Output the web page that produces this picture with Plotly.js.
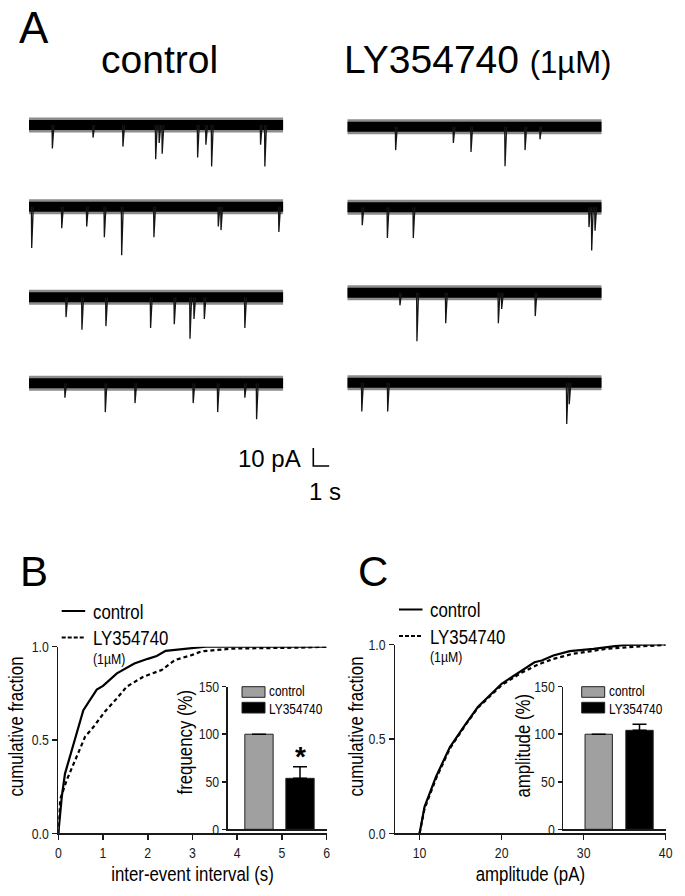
<!DOCTYPE html>
<html><head><meta charset="utf-8">
<script src="https://cdn.plot.ly/plotly-3.0.1.min.js"></script>
<style>html,body{margin:0;padding:0;background:#fff}#chart{width:685px;height:896px}</style>
</head><body><div id="chart"></div>
<script>
// ---------- DATA ----------
const traceDuration = 16; // seconds shown per sweep
// control sweeps: event times (s) and amplitudes (pA, downward)
const ctrlEventTimes = [
  [1.47, 4.03, 5.91, 7.97, 8.19, 8.38, 10.61, 11.13, 11.49, 14.57, 14.84],
  [0.17, 2.06, 3.63, 4.74, 5.83, 7.86, 11.91, 12.08, 15.72],
  [2.33, 3.33, 4.84, 7.65, 9.14, 10.13, 10.38, 11.03, 13.58],
  [2.26, 4.80, 6.67, 10.33, 11.87, 13.58, 14.32]
];
const ctrlEventAmps = [
  [13, 7, 12, 19, 10, 16, 18, 11, 23, 11, 23],
  [23, 12, 11, 17, 27, 17, 11, 13, 14],
  [11, 18, 16, 17, 15, 23, 12, 12, 17],
  [8, 16, 11, 11, 16, 8, 20]
];
// LY354740 sweeps
const lyEventTimes = [
  [3.04, 6.67, 7.78, 9.92, 11.18, 12.12],
  [0.94, 2.52, 4.15, 15.20, 15.37, 15.58],
  [3.31, 4.38, 6.19, 9.50, 9.71, 11.82],
  [0.91, 2.54, 13.80, 13.96]
];
const lyEventAmps = [
  [13, 9, 14, 22, 13, 7],
  [10, 17, 17, 11, 24, 13],
  [7, 27, 17, 17, 9, 13],
  [16, 16, 23, 12]
];
const scaleBarCurrent = 10; // pA
const scaleBarTime = 1;     // s

// B: cumulative inter-event interval
const ieiCtrlX = [0, 0.08, 0.15, 0.37, 0.56, 0.86, 1.0, 1.31, 1.5, 1.7, 2.0, 2.2, 2.4, 2.9, 3.3, 4, 5, 6];
const ieiCtrlY = [0, 0.20, 0.32, 0.50, 0.66, 0.77, 0.79, 0.857, 0.885, 0.91, 0.935, 0.95, 0.978, 0.99, 1.0, 1.0, 1.0, 1.0];
const ieiLyX = [0, 0.04, 0.19, 0.37, 0.6, 0.78, 1.04, 1.31, 1.53, 1.9, 2.31, 2.61, 2.98, 3.2, 3.9, 5.4, 6];
const ieiLyY = [0, 0.18, 0.286, 0.39, 0.518, 0.568, 0.652, 0.723, 0.786, 0.839, 0.875, 0.929, 0.955, 0.975, 0.99, 0.995, 1.0];
// C: cumulative amplitude
const ampCtrlX = [10, 10.6, 12.0, 13.7, 15.5, 17.1, 20.0, 22.4, 24.0, 24.9, 26.3, 28.3, 31.2, 35, 40];
const ampCtrlY = [0, 0.14, 0.30, 0.457, 0.572, 0.669, 0.792, 0.863, 0.906, 0.915, 0.942, 0.965, 0.977, 0.998, 1.0];
const ampLyX = [10, 10.6, 12.0, 13.7, 15.5, 17.1, 20.0, 22.4, 24.5, 26.3, 28.7, 32.8, 36.9, 40];
const ampLyY = [0, 0.13, 0.29, 0.45, 0.568, 0.665, 0.785, 0.85, 0.895, 0.924, 0.951, 0.977, 0.99, 0.998];

// insets (% of control)
const groups = ['control', 'LY354740'];
const freqMean = [100, 53.6];
const freqErr = [0, 12.2];
const ampMean = [100, 104.1];
const ampErr = [0, 6.3];
const barColors = ['#a0a0a0', '#000000'];

const ieiTicks = [0, 1, 2, 3, 4, 5, 6];
const ampTicks = [10, 20, 30, 40];
const cdfTicks = [0, 0.5, 1.0];
const insetTicks = [0, 50, 100, 150];

// ---------- LAYOUT HELPERS ----------
const W = 685, H = 896;
const FONT = 'Liberation Sans, Arial, Helvetica, sans-serif';
const FONTN = 'Liberation Sans Narrow, Liberation Sans, Arial, sans-serif';
const AX = '#1a1a1a';
const X = px => px / W;
const Y = py => 1 - py / H;

// is a real narrow face installed? (else narrow texts are condensed after drawing)
function hasNarrow() {
  const c = document.createElement('canvas').getContext('2d');
  c.font = '40px monospace'; const a = c.measureText('control LY354740').width;
  c.font = '40px "Liberation Sans Narrow", monospace'; const b = c.measureText('control LY354740').width;
  return Math.abs(a - b) > 1;
}
const NARROW_OK = hasNarrow();
const SQUEEZE = 0.82;

const traces = [];
const layout = {
  width: W, height: H, margin: {l: 0, r: 0, t: 0, b: 0},
  paper_bgcolor: '#fff', plot_bgcolor: 'rgba(0,0,0,0)',
  showlegend: false, font: {family: FONTN, color: AX},
  shapes: [], annotations: []
};

// ---------- PANEL A: sweeps ----------
const PX_PER_PA = 1.8;
const colX = [[29, 283.3], [347.3, 601.7]];
const rowBase = [[125, 206.7, 297.3, 383.3], [126.7, 207.3, 292.7, 382.7]];
const yTop = 8, yBot = -32;
let axN = 5;
function addSweep(col, row, times, amps) {
  const n = axN++;
  const base = rowBase[col][row];
  const topPx = base - yTop * PX_PER_PA, botPx = base - yBot * PX_PER_PA;
  layout['xaxis' + n] = {domain: [X(colX[col][0]), X(colX[col][1])], range: [0, traceDuration], visible: false, anchor: 'y' + n, fixedrange: true};
  layout['yaxis' + n] = {domain: [Y(botPx), Y(topPx)], range: [yBot, yTop], visible: false, anchor: 'x' + n, fixedrange: true};
  // noise band (baseline)
  traces.push({x: [0, traceDuration], y: [0, 0], xaxis: 'x' + n, yaxis: 'y' + n, mode: 'lines', line: {color: 'rgba(0,0,0,0.45)', width: 15}, hoverinfo: 'skip'});
  traces.push({x: [0, traceDuration], y: [0, 0], xaxis: 'x' + n, yaxis: 'y' + n, mode: 'lines', line: {color: '#000', width: 10}, hoverinfo: 'skip'});
  const ex = [], ey = [];
  times.forEach((t, i) => {
    ex.push(t - 0.02, t, t + 0.1, null);
    ey.push(0, -amps[i], 0, null);
  });
  traces.push({x: ex, y: ey, xaxis: 'x' + n, yaxis: 'y' + n, mode: 'lines', line: {color: '#151515', width: 1.3}, hoverinfo: 'skip'});
}
for (let r = 0; r < 4; r++) addSweep(0, r, ctrlEventTimes[r], ctrlEventAmps[r]);
for (let r = 0; r < 4; r++) addSweep(1, r, lyEventTimes[r], lyEventAmps[r]);

// scale bar axis (same scale as sweeps)
{
  const n = axN++;
  const pxPerS = (colX[0][1] - colX[0][0]) / traceDuration;
  const x0 = 313.3, y0 = 466;
  layout['xaxis' + n] = {domain: [X(x0 - 0.3 * pxPerS), X(x0 + 1.3 * pxPerS)], range: [-0.3, 1.3], visible: false, anchor: 'y' + n, fixedrange: true};
  layout['yaxis' + n] = {domain: [Y(y0 + 1.5 * PX_PER_PA), Y(y0 - 11.5 * PX_PER_PA)], range: [-1.5, 11.5], visible: false, anchor: 'x' + n, fixedrange: true};
  traces.push({x: [0, 0, scaleBarTime], y: [scaleBarCurrent, 0, 0], xaxis: 'x' + n, yaxis: 'y' + n, mode: 'lines', line: {color: '#000', width: 1.6}, hoverinfo: 'skip'});
}

// ---------- axis styles ----------
const baseAxis = {showline: true, linecolor: AX, linewidth: 1.5, ticks: 'outside', ticklen: 5, tickwidth: 1.5, tickcolor: AX,
  showgrid: false, zeroline: false, tickfont: {size: 15, family: FONTN, color: AX}, fixedrange: true};
const titleFont = {size: 20.5, family: FONTN, color: '#000'};

// Panel B main
layout.xaxis = Object.assign({}, baseAxis, {domain: [X(58.3), X(326.7)], range: [0, 6], tickvals: ieiTicks, anchor: 'y',
  title: {text: 'inter-event interval (s)', font: titleFont, standoff: 7}});
layout.yaxis = Object.assign({}, baseAxis, {domain: [Y(833.3), Y(646.7)], range: [0, 1], tickvals: cdfTicks, tickformat: '.1f', anchor: 'x'});
// Panel B inset
layout.xaxis2 = Object.assign({}, baseAxis, {domain: [X(227.7), X(326.7)], type: 'category', range: [-0.763, 1.651], ticks: '', showticklabels: false, anchor: 'y2'});
layout.yaxis2 = Object.assign({}, baseAxis, {domain: [Y(829.3), Y(686.7)], range: [0, 150], tickvals: insetTicks, ticklen: 4, anchor: 'x2'});
// Panel C main
layout.xaxis3 = Object.assign({}, baseAxis, {domain: [X(395), X(665.7)], range: [7, 40], tickvals: ampTicks, anchor: 'y3',
  title: {text: 'amplitude (pA)', font: titleFont, standoff: 7}});
layout.yaxis3 = Object.assign({}, baseAxis, {domain: [Y(833.3), Y(644.5)], range: [0, 1], tickvals: cdfTicks, tickformat: '.1f', anchor: 'x3'});
// Panel C inset
layout.xaxis4 = Object.assign({}, baseAxis, {domain: [X(563.3), X(665.7)], type: 'category', range: [-0.868, 1.642], ticks: '', showticklabels: false, anchor: 'y4'});
layout.yaxis4 = Object.assign({}, baseAxis, {domain: [Y(829.3), Y(686.7)], range: [0, 150], tickvals: insetTicks, ticklen: 4, anchor: 'x4'});

// CDF curves
traces.push({x: ieiCtrlX, y: ieiCtrlY, xaxis: 'x', yaxis: 'y', mode: 'lines', line: {color: '#000', width: 2.2}, cliponaxis: false});
traces.push({x: ieiLyX, y: ieiLyY, xaxis: 'x', yaxis: 'y', mode: 'lines', line: {color: '#000', width: 2.2, dash: '4px,3px'}, cliponaxis: false});
traces.push({x: ampCtrlX, y: ampCtrlY, xaxis: 'x3', yaxis: 'y3', mode: 'lines', line: {color: '#000', width: 2.2}, cliponaxis: false});
traces.push({x: ampLyX, y: ampLyY, xaxis: 'x3', yaxis: 'y3', mode: 'lines', line: {color: '#000', width: 2.2, dash: '4px,3px'}, cliponaxis: false});

// inset bars
traces.push({type: 'bar', x: groups, y: freqMean, xaxis: 'x2', yaxis: 'y2', width: 0.69,
  marker: {color: barColors, line: {color: '#222', width: 1}},
  error_y: {type: 'data', symmetric: false, array: freqErr, arrayminus: [0, 0], color: '#000', thickness: 1.5, width: 7}, cliponaxis: false});
traces.push({type: 'bar', x: groups, y: ampMean, xaxis: 'x4', yaxis: 'y4', width: 0.67,
  marker: {color: barColors, line: {color: '#222', width: 1}},
  error_y: {type: 'data', symmetric: false, array: ampErr, arrayminus: [0, 0], color: '#000', thickness: 1.5, width: 7}, cliponaxis: false});

// ---------- annotations / shapes ----------
const A = layout.annotations, S = layout.shapes;
function txt(text, px, py, size, opts, fam) {
  A.push(Object.assign({text, x: X(px), y: Y(py), xref: 'paper', yref: 'paper', showarrow: false,
    xanchor: 'left', align: 'left', yanchor: 'middle', font: {size, family: fam || FONTN, color: '#000'}}, opts || {}));
}
// panel letters
txt('A', 17, 27, 44, {}, FONT);
txt('B', 18, 571, 42, {}, FONT);
txt('C', 356, 571, 42, {}, FONT);
// column titles
txt('control', 159, 60, 39, {xanchor: 'center', align: 'center'}, FONT);
txt('LY354740 <span style="font-size:31px">(1µM)</span>', 342, 60, 39, {}, FONT);
// scale bar labels
txt('10 pA', 303, 458, 24, {xanchor: 'right', align: 'right'}, FONT);
txt('1 s', 325, 491, 24, {xanchor: 'center', align: 'center'}, FONT);

// y-axis titles (rotated)
const yTitle = (text, px, py) => txt(text, px, py, 20.5, {xanchor: 'center', yanchor: 'middle', align: 'center', textangle: -90});
yTitle('cumulative fraction', 15, 727);
yTitle('frequency (%)', 184, 742);
yTitle('cumulative fraction', 355, 727);
yTitle('amplitude (%)', 522, 746);

// main legends
function mainLegend(x0, yc) {
  S.push({type: 'line', xref: 'paper', yref: 'paper', x0: X(x0), x1: X(x0 + 23.5), y0: Y(yc), y1: Y(yc), line: {color: '#000', width: 2}});
  S.push({type: 'line', xref: 'paper', yref: 'paper', x0: X(x0), x1: X(x0 + 23.5), y0: Y(yc + 26.5), y1: Y(yc + 26.5), line: {color: '#000', width: 2, dash: '4px,2px'}});
  txt('control', x0 + 29, yc, 20.5);
  txt('LY354740', x0 + 29, yc + 26.5, 20.5);
  txt('(1µM)', x0 + 29, yc + 47, 15);
}
mainLegend(61.7, 611);
mainLegend(399, 609.5);

// inset legends
function insetLegend(x0) {
  S.push({type: 'rect', xref: 'paper', yref: 'paper', x0: X(x0), x1: X(x0 + 23), y0: Y(697.3), y1: Y(686.7), fillcolor: barColors[0], line: {color: '#222', width: 1}});
  S.push({type: 'rect', xref: 'paper', yref: 'paper', x0: X(x0), x1: X(x0 + 23), y0: Y(713), y1: Y(702.3), fillcolor: barColors[1], line: {color: '#222', width: 1}});
  txt(groups[0], x0 + 25, 691.3, 14.5);
  txt(groups[1], x0 + 25, 708.6, 14.5);
}
insetLegend(242);
insetLegend(581.7);

// significance star
A.push({text: '<b>*</b>', x: groups[1], y: freqMean[1] + freqErr[1], xref: 'x2', yref: 'y2', showarrow: false,
  xanchor: 'center', yanchor: 'bottom', yshift: -7, font: {size: 28, family: FONT, color: '#000'}});

function condense(gd) {
  if (NARROW_OK) return;
  gd.querySelectorAll('text').forEach(t => {
    const ff = (t.style && t.style.fontFamily) || '';
    if (ff.indexOf('Narrow') < 0) return;
    const L = t.getComputedTextLength();
    if (L > 0) {
      t.setAttribute('textLength', (L * SQUEEZE).toFixed(2));
      t.setAttribute('lengthAdjust', 'spacingAndGlyphs');
    }
  });
}
Plotly.newPlot('chart', traces, layout, {staticPlot: true, displayModeBar: false}).then(condense);
</script>
</body></html>
